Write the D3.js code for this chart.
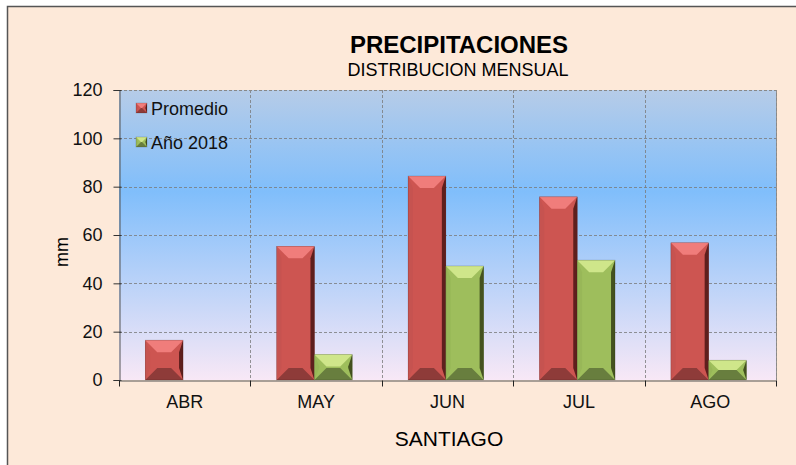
<!DOCTYPE html>
<html>
<head>
<meta charset="utf-8">
<script src="https://cdn.jsdelivr.net/npm/d3@7"></script>
<style>
  body { margin: 0; background: #fff; }
  svg { display: block; font-family: "Liberation Sans", Arial, sans-serif; }
</style>
</head>
<body>
<div id="chart"></div>
<script>
//data
const months = ["ABR", "MAY", "JUN", "JUL", "AGO"];
const seriesNames = ["Promedio", "Año 2018"];
const promedio = [16.5, 55.3, 84.4, 75.8, 56.8];
const anio2018 = [0, 10.6, 47.2, 49.6, 8.2];
const yTicks = [0, 20, 40, 60, 80, 100, 120];

const width = 796, height = 465;
const plot = { left: 119, right: 776, top: 90, bottom: 380 };

//colours for each series: face, top, bottom, left, right
const palette = [
  { face: "#CD5551", top: "#F07D7B", bottom: "#8E3B39", left: "#C65350", right: "#5E1F1D" },
  { face: "#9EBE5C", top: "#CFE68A", bottom: "#687E3E", left: "#98B758", right: "#44521F" }
];

const svg = d3.select("#chart").append("svg")
  .attr("width", width)
  .attr("height", height);

const defs = svg.append("defs");
const grad = defs.append("linearGradient")
  .attr("id", "plotBg").attr("x1", 0).attr("y1", 0).attr("x2", 0).attr("y2", 1);
grad.append("stop").attr("offset", "0%").attr("stop-color", "#B6CCE8");
grad.append("stop").attr("offset", "35%").attr("stop-color", "#80BEFB");
grad.append("stop").attr("offset", "100%").attr("stop-color", "#F8E8F6");

//chart background + border (only top/left visible)
svg.append("rect").attr("x", 7).attr("y", 6).attr("width", width).attr("height", height)
  .attr("fill", "#FDE9D9");
svg.append("path").attr("d", `M7.5,${height} V6.5 H${width}`)
  .attr("fill", "none").attr("stroke", "#555").attr("stroke-width", 1.5);

//scales
const x0 = d3.scaleBand().domain(months).range([plot.left, plot.right]).padding(0);
const x1 = d3.scaleBand().domain(seriesNames)
  .range([x0.bandwidth() * 0.2, x0.bandwidth() * 0.775]).padding(0);
const y = d3.scaleLinear().domain([0, 120]).range([plot.bottom, plot.top]);

//plot area
svg.append("rect")
  .attr("x", plot.left).attr("y", plot.top)
  .attr("width", plot.right - plot.left).attr("height", plot.bottom - plot.top)
  .attr("fill", "url(#plotBg)");

//grid lines
const grid = svg.append("g").attr("stroke", "#7a7a7a").attr("stroke-dasharray", "3,2").attr("stroke-width", 0.8);
yTicks.slice(1).forEach(t => {
  grid.append("line").attr("x1", plot.left).attr("x2", plot.right)
    .attr("y1", Math.round(y(t)) + 0.5).attr("y2", Math.round(y(t)) + 0.5);
});
months.slice(1).concat(["end"]).forEach((m, i) => {
  const xx = i < months.length - 1 ? x0(m) : plot.right;
  grid.append("line").attr("x1", Math.round(xx) + 0.5).attr("x2", Math.round(xx) + 0.5)
    .attr("y1", plot.top).attr("y2", plot.bottom);
});

//bevelled bar
const drawBar = (g, bx, by, bw, bh, col) => {
  if (bh <= 0) return;
  const b = Math.min(12, bh / 2, bw / 2);
  const x2 = bx + bw, y2 = by + bh;
  const poly = (pts, fill) => g.append("polygon")
    .attr("points", pts.map(p => p.join(",")).join(" ")).attr("fill", fill);
  poly([[bx, by], [x2, by], [x2, y2], [bx, y2]], col.face);
  poly([[bx, by], [bx + b / 2.5, by + b], [bx + b / 2.5, y2 - b], [bx, y2]], col.left);
  poly([[x2, by], [x2 - b / 3, by + b], [x2 - b / 3, y2 - b], [x2, y2]], col.right);
  poly([[bx, by], [x2, by], [x2 - b, by + b], [bx + b, by + b]], col.top);
  poly([[bx, y2], [x2, y2], [x2 - b, y2 - b], [bx + b, y2 - b]], col.bottom);
  g.append("rect").attr("x", bx).attr("y", by).attr("width", bw).attr("height", bh)
    .attr("fill", "none").attr("stroke", "rgba(0,0,0,0.25)").attr("stroke-width", 0.6);
};

const bars = svg.append("g");
const series = [promedio, anio2018];
months.forEach((m, i) => {
  series.forEach((vals, s) => {
    const bx = x0(m) + x1(seriesNames[s]);
    drawBar(bars, bx, y(vals[i]), x1.bandwidth(), y(0) - y(vals[i]), palette[s]);
  });
});

//plot frame: dashed top/right, solid axes
svg.append("path").attr("d", `M${plot.left},${plot.top + 0.5} H${plot.right + 0.5} V${plot.bottom}`)
  .attr("fill", "none").attr("stroke", "#888").attr("stroke-dasharray", "3,2");

//y axis
const yAxis = d3.axisLeft(y).tickValues(yTicks).tickSize(6).tickPadding(11);
const gy = svg.append("g").attr("transform", `translate(${plot.left + 0.5},0)`).call(yAxis);
gy.attr("font-size", 18).attr("font-family", "Liberation Sans, Arial, sans-serif");
gy.select(".domain").attr("stroke", "#555");
gy.selectAll(".tick line").attr("stroke", "#333").attr("x2", -6).attr("x1", 2);
gy.selectAll("text").attr("fill", "#111");

//x axis
const gx = svg.append("g").attr("transform", `translate(0,${plot.bottom + 0.5})`)
  .call(d3.axisBottom(x0).tickSize(0).tickPadding(15));
gx.attr("font-size", 18).attr("font-family", "Liberation Sans, Arial, sans-serif");
gx.select(".domain").attr("stroke", "#555");
gx.selectAll("text").attr("fill", "#111");
months.concat(["end"]).forEach((m, i) => {
  const xx = i < months.length ? x0(m) : plot.right;
  gx.append("line").attr("x1", Math.round(xx) + 0.5).attr("x2", Math.round(xx) + 0.5)
    .attr("y1", 0).attr("y2", 6).attr("stroke", "#222");
});

//titles
svg.append("text").attr("x", 459).attr("y", 53).attr("text-anchor", "middle")
  .attr("font-size", 24).attr("font-weight", "bold").attr("fill", "#000").text("PRECIPITACIONES");
svg.append("text").attr("x", 458).attr("y", 76).attr("text-anchor", "middle")
  .attr("font-size", 18).attr("fill", "#000").text("DISTRIBUCION MENSUAL");
svg.append("text").attr("transform", "translate(68,252) rotate(-90)").attr("text-anchor", "middle")
  .attr("font-size", 18).attr("fill", "#000").text("mm");
svg.append("text").attr("x", 449).attr("y", 446).attr("text-anchor", "middle")
  .attr("font-size", 21).attr("fill", "#000").text("SANTIAGO");

//legend
const legend = svg.append("g");
seriesNames.forEach((name, s) => {
  const ly = 103 + s * 34;
  drawBar(legend, 136, ly, 11, 10, palette[s]);
  legend.append("text").attr("x", 151).attr("y", ly + 12).attr("font-size", 18)
    .attr("fill", "#111").text(name);
});
</script>
</body>
</html>
